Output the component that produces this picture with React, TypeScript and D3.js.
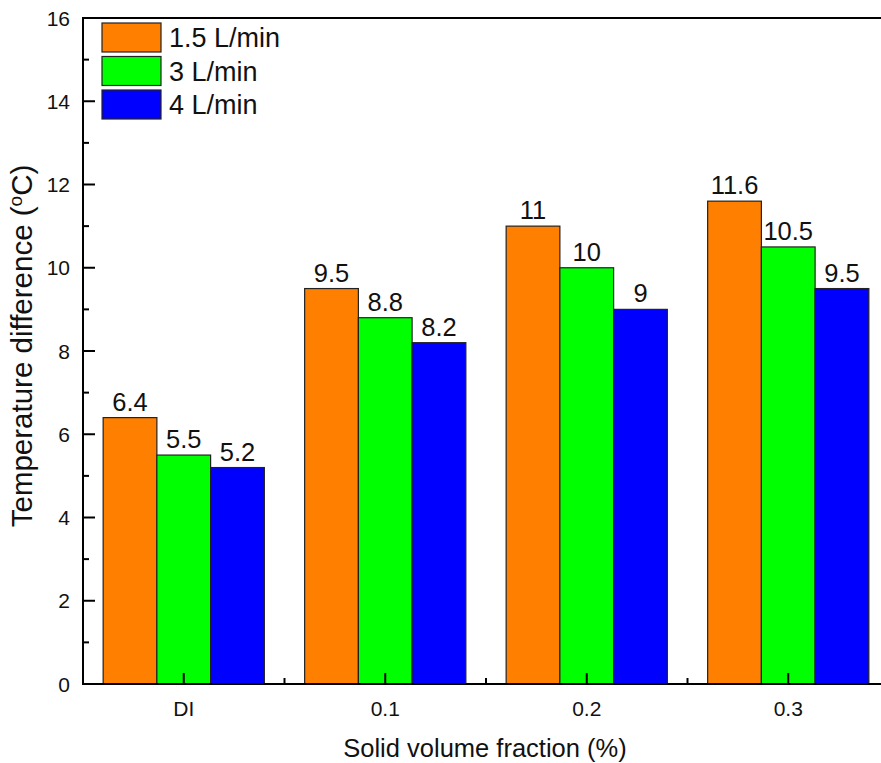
import React, { useEffect, useRef } from 'react';
import * as d3 from 'd3';

const categories = ['DI', '0.1', '0.2', '0.3'];
const seriesNames = ['1.5 L/min', '3 L/min', '4 L/min'];
const seriesColors = ['#FF8000', '#00FF00', '#0000FF'];
const flow15 = [6.4, 9.5, 11, 11.6];
const flow3 = [5.5, 8.8, 10, 10.5];
const flow4 = [5.2, 8.2, 9, 9.5];
const yTicks = [0, 2, 4, 6, 8, 10, 12, 14, 16];

const FONT = '"Liberation Sans", Arial, sans-serif';

const App = () => {
  const svgRef = useRef<SVGSVGElement>(null);

  useEffect(() => {
    document.body.style.margin = '0';
    const svg = d3.select(svgRef.current);
    svg.selectAll('*').remove();

    const left = 83, top = 18, bottom = 684, right = 889;
    const values = [flow15, flow3, flow4];

    const x = d3.scaleBand().domain(categories).range([left, right]);
    const y = d3.scaleLinear().domain([0, 16]).range([bottom, top]);
    const groupW = x.bandwidth() * 0.8;
    const xs = d3.scaleBand()
      .domain(seriesNames)
      .range([(x.bandwidth() - groupW) / 2, (x.bandwidth() + groupW) / 2]);

    // bars + value labels
    seriesNames.forEach((s, si) => {
      const g = svg.append('g');
      g.selectAll('rect')
        .data(values[si])
        .enter()
        .append('rect')
        .attr('x', (d, i) => (x(categories[i]) as number) + (xs(s) as number))
        .attr('y', d => y(d))
        .attr('width', xs.bandwidth())
        .attr('height', d => bottom - y(d))
        .attr('fill', seriesColors[si])
        .attr('stroke', '#222')
        .attr('stroke-width', 1.2);

      g.selectAll('text')
        .data(values[si])
        .enter()
        .append('text')
        .attr('x', (d, i) => (x(categories[i]) as number) + (xs(s) as number) + xs.bandwidth() / 2)
        .attr('y', d => y(d) - 7)
        .attr('text-anchor', 'middle')
        .attr('font-family', FONT)
        .attr('font-size', 25.5)
        .attr('fill', '#111')
        .text(d => String(d));
    });

    // axis lines
    svg.append('line').attr('x1', left).attr('x2', left).attr('y1', top).attr('y2', bottom + 1)
      .attr('stroke', '#000').attr('stroke-width', 2);
    svg.append('line').attr('x1', left - 1).attr('x2', 881).attr('y1', bottom).attr('y2', bottom)
      .attr('stroke', '#000').attr('stroke-width', 2);
    svg.append('line').attr('x1', left - 1).attr('x2', 881).attr('y1', top).attr('y2', top)
      .attr('stroke', '#000').attr('stroke-width', 2);

    // y ticks
    const minorY = d3.range(1, 16, 2);
    svg.selectAll('line.ymaj').data(yTicks).enter().append('line')
      .attr('x1', left).attr('x2', left + 12).attr('y1', d => y(d)).attr('y2', d => y(d))
      .attr('stroke', '#000').attr('stroke-width', 2);
    svg.selectAll('line.ymin').data(minorY).enter().append('line')
      .attr('x1', left).attr('x2', left + 6).attr('y1', d => y(d)).attr('y2', d => y(d))
      .attr('stroke', '#000').attr('stroke-width', 2);
    svg.selectAll('text.ylab').data(yTicks).enter().append('text')
      .attr('x', left - 13).attr('y', d => y(d)).attr('dy', '0.36em')
      .attr('text-anchor', 'end')
      .attr('font-family', FONT).attr('font-size', 21).attr('fill', '#111')
      .text(d => String(d));

    // x ticks
    svg.selectAll('line.xmaj').data(categories).enter().append('line')
      .attr('x1', d => (x(d) as number) + x.bandwidth() / 2)
      .attr('x2', d => (x(d) as number) + x.bandwidth() / 2)
      .attr('y1', bottom).attr('y2', bottom - 11)
      .attr('stroke', '#000').attr('stroke-width', 2);
    svg.selectAll('line.xmin').data(categories.slice(1)).enter().append('line')
      .attr('x1', d => x(d) as number).attr('x2', d => x(d) as number)
      .attr('y1', bottom).attr('y2', bottom - 6)
      .attr('stroke', '#000').attr('stroke-width', 2);
    svg.selectAll('text.xlab').data(categories).enter().append('text')
      .attr('x', d => (x(d) as number) + x.bandwidth() / 2)
      .attr('y', 716)
      .attr('text-anchor', 'middle')
      .attr('font-family', FONT).attr('font-size', 21).attr('fill', '#111')
      .text(d => d);

    // axis titles
    svg.append('text')
      .attr('x', 485).attr('y', 757)
      .attr('text-anchor', 'middle')
      .attr('font-family', FONT).attr('font-size', 25.5).attr('fill', '#111')
      .text('Solid volume fraction (%)');

    const yt = svg.append('text')
      .attr('transform', 'translate(32,346) rotate(-90)')
      .attr('text-anchor', 'middle')
      .attr('font-family', FONT).attr('font-size', 29.5).attr('fill', '#111');
    yt.append('tspan').text('Temperature difference (');
    yt.append('tspan').attr('font-size', 19).attr('dy', -10).text('o');
    yt.append('tspan').attr('dy', 10).text('C)');

    // legend
    const lg = svg.append('g');
    seriesNames.forEach((s, i) => {
      const ly = 23 + i * 33.5;
      lg.append('rect')
        .attr('x', 102).attr('y', ly).attr('width', 59).attr('height', 29)
        .attr('fill', seriesColors[i]).attr('stroke', '#222').attr('stroke-width', 1.2);
      lg.append('text')
        .attr('x', 169).attr('y', ly + 14.5).attr('dy', '0.36em')
        .attr('font-family', FONT).attr('font-size', 27).attr('fill', '#111')
        .text(s);
    });
  }, []);

  return <svg ref={svgRef} width={881} height={763} style={{ display: 'block' }}></svg>;
};

export default App;
